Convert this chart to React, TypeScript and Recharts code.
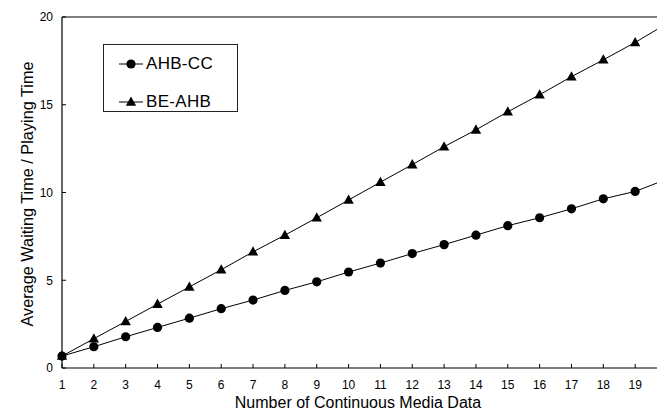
import React from 'react';
import { LineChart, Line, XAxis, YAxis, ReferenceLine, Legend } from 'recharts';

const xValues = [1, 2, 3, 4, 5, 6, 7, 8, 9, 10, 11, 12, 13, 14, 15, 16, 17, 18, 19, 20];
const ahbCC = [0.68, 1.21, 1.78, 2.31, 2.84, 3.38, 3.87, 4.42, 4.91, 5.47, 5.98, 6.52, 7.03, 7.57, 8.11, 8.56, 9.07, 9.64, 10.06, 10.76];
const beAHB = [0.68, 1.67, 2.65, 3.64, 4.62, 5.6, 6.62, 7.57, 8.56, 9.57, 10.59, 11.59, 12.61, 13.57, 14.6, 15.57, 16.6, 17.56, 18.55, 19.63];
const xTicks = [1, 2, 3, 4, 5, 6, 7, 8, 9, 10, 11, 12, 13, 14, 15, 16, 17, 18, 19];
const yTicks = [0, 5, 10, 15, 20];
const seriesNames = ['AHB-CC', 'BE-AHB'];

const data = xValues.map((x, i) => ({ x, cc: ahbCC[i], be: beAHB[i] }));

const FONT = '"Liberation Sans", Arial, sans-serif';

const CircleDot = (props: any) => {
  const { cx, cy, index } = props;
  if (cx == null || cy == null) return null;
  return <circle key={`c-${index}`} cx={cx} cy={cy} r={4.6} fill="#000" stroke="none" />;
};

const TriDot = (props: any) => {
  const { cx, cy, index } = props;
  if (cx == null || cy == null) return null;
  const pts = `${cx},${cy - 5.5} ${cx - 5.2},${cy + 3.8} ${cx + 5.2},${cy + 3.8}`;
  return <polygon key={`t-${index}`} points={pts} fill="#000" stroke="none" />;
};

const XLabel = (props: any) => {
  const vb = props.viewBox || { x: 62, y: 368 };
  return (
    <text x={vb.x + 296} y={vb.y + 40} textAnchor="middle" fontSize={16} fontFamily={FONT} fill="#000">
      Number of Continuous Media Data
    </text>
  );
};

const YLabel = () => {
  const cx = 27;
  const cy = 194;
  return (
    <g transform={`translate(${cx}, ${cy}) rotate(-90)`}>
      <text x={0} y={5.5} textAnchor="middle" fontSize={16.3} fontFamily={FONT} fill="#000">
        Average Waiting Time / Playing Time
      </text>
    </g>
  );
};

const LegendBox = () => (
  <div
    style={{
      width: 133,
      height: 66,
      border: '1px solid #222',
      background: '#fff',
      position: 'relative',
      fontFamily: FONT,
      fontSize: 17,
      color: '#000',
    }}
  >
    {seriesNames.map((name, i) => (
      <div
        key={name}
        style={{ position: 'absolute', left: 14, top: i === 0 ? 9 : 47, height: 20, display: 'flex', alignItems: 'center' }}
      >
        <svg width={26} height={14} style={{ display: 'block' }}>
          <line x1={1} y1={7} x2={25} y2={7} stroke="#000" strokeWidth={1} />
          {i === 0 ? (
            <circle cx={13} cy={7} r={4.6} fill="#000" />
          ) : (
            <polygon points="13,1.5 7.8,10.8 18.2,10.8" fill="#000" />
          )}
        </svg>
        <span style={{ marginLeft: 2, whiteSpace: 'nowrap', letterSpacing: 0.3 }}>{name}</span>
      </div>
    ))}
  </div>
);

export default function App() {
  return (
    <div style={{ position: 'absolute', left: 0, top: 0, width: 657, height: 413, overflow: 'hidden', background: '#fff' }}>
      <LineChart width={667} height={413} data={data} margin={{ top: 17, right: 0, bottom: 0, left: 0 }}>
        <XAxis
          dataKey="x"
          type="number"
          domain={[1, 20]}
          ticks={xTicks}
          interval={0}
          axisLine={{ stroke: '#000', strokeWidth: 1.2 }}
          tickLine={{ stroke: '#000', strokeWidth: 1 }}
          tickSize={-4}
          tickMargin={16}
          height={45}
          tick={{ fill: '#000', fontSize: 12, fontFamily: FONT }}
          label={<XLabel />}
        />
        <YAxis
          type="number"
          domain={[0, 20]}
          ticks={yTicks}
          interval={0}
          width={62}
          axisLine={{ stroke: '#000', strokeWidth: 1.2 }}
          tickLine={{ stroke: '#000', strokeWidth: 1 }}
          tickSize={-4}
          tickMargin={13}
          tick={{ fill: '#000', fontSize: 12, fontFamily: FONT }}
          label={<YLabel />}
        />
        <ReferenceLine y={20} stroke="#000" strokeWidth={1.2} />
        <Line
          type="linear"
          dataKey="cc"
          name={seriesNames[0]}
          stroke="#000"
          strokeWidth={1}
          dot={<CircleDot />}
          activeDot={false}
          isAnimationActive={false}
        />
        <Line
          type="linear"
          dataKey="be"
          name={seriesNames[1]}
          stroke="#000"
          strokeWidth={1}
          dot={<TriDot />}
          activeDot={false}
          isAnimationActive={false}
        />
        <Legend
          layout="horizontal"
          verticalAlign="middle"
          align="center"
          wrapperStyle={{ left: 103, top: 44, width: 135, height: 68 }}
          content={() => <LegendBox />}
        />
      </LineChart>
    </div>
  );
}
